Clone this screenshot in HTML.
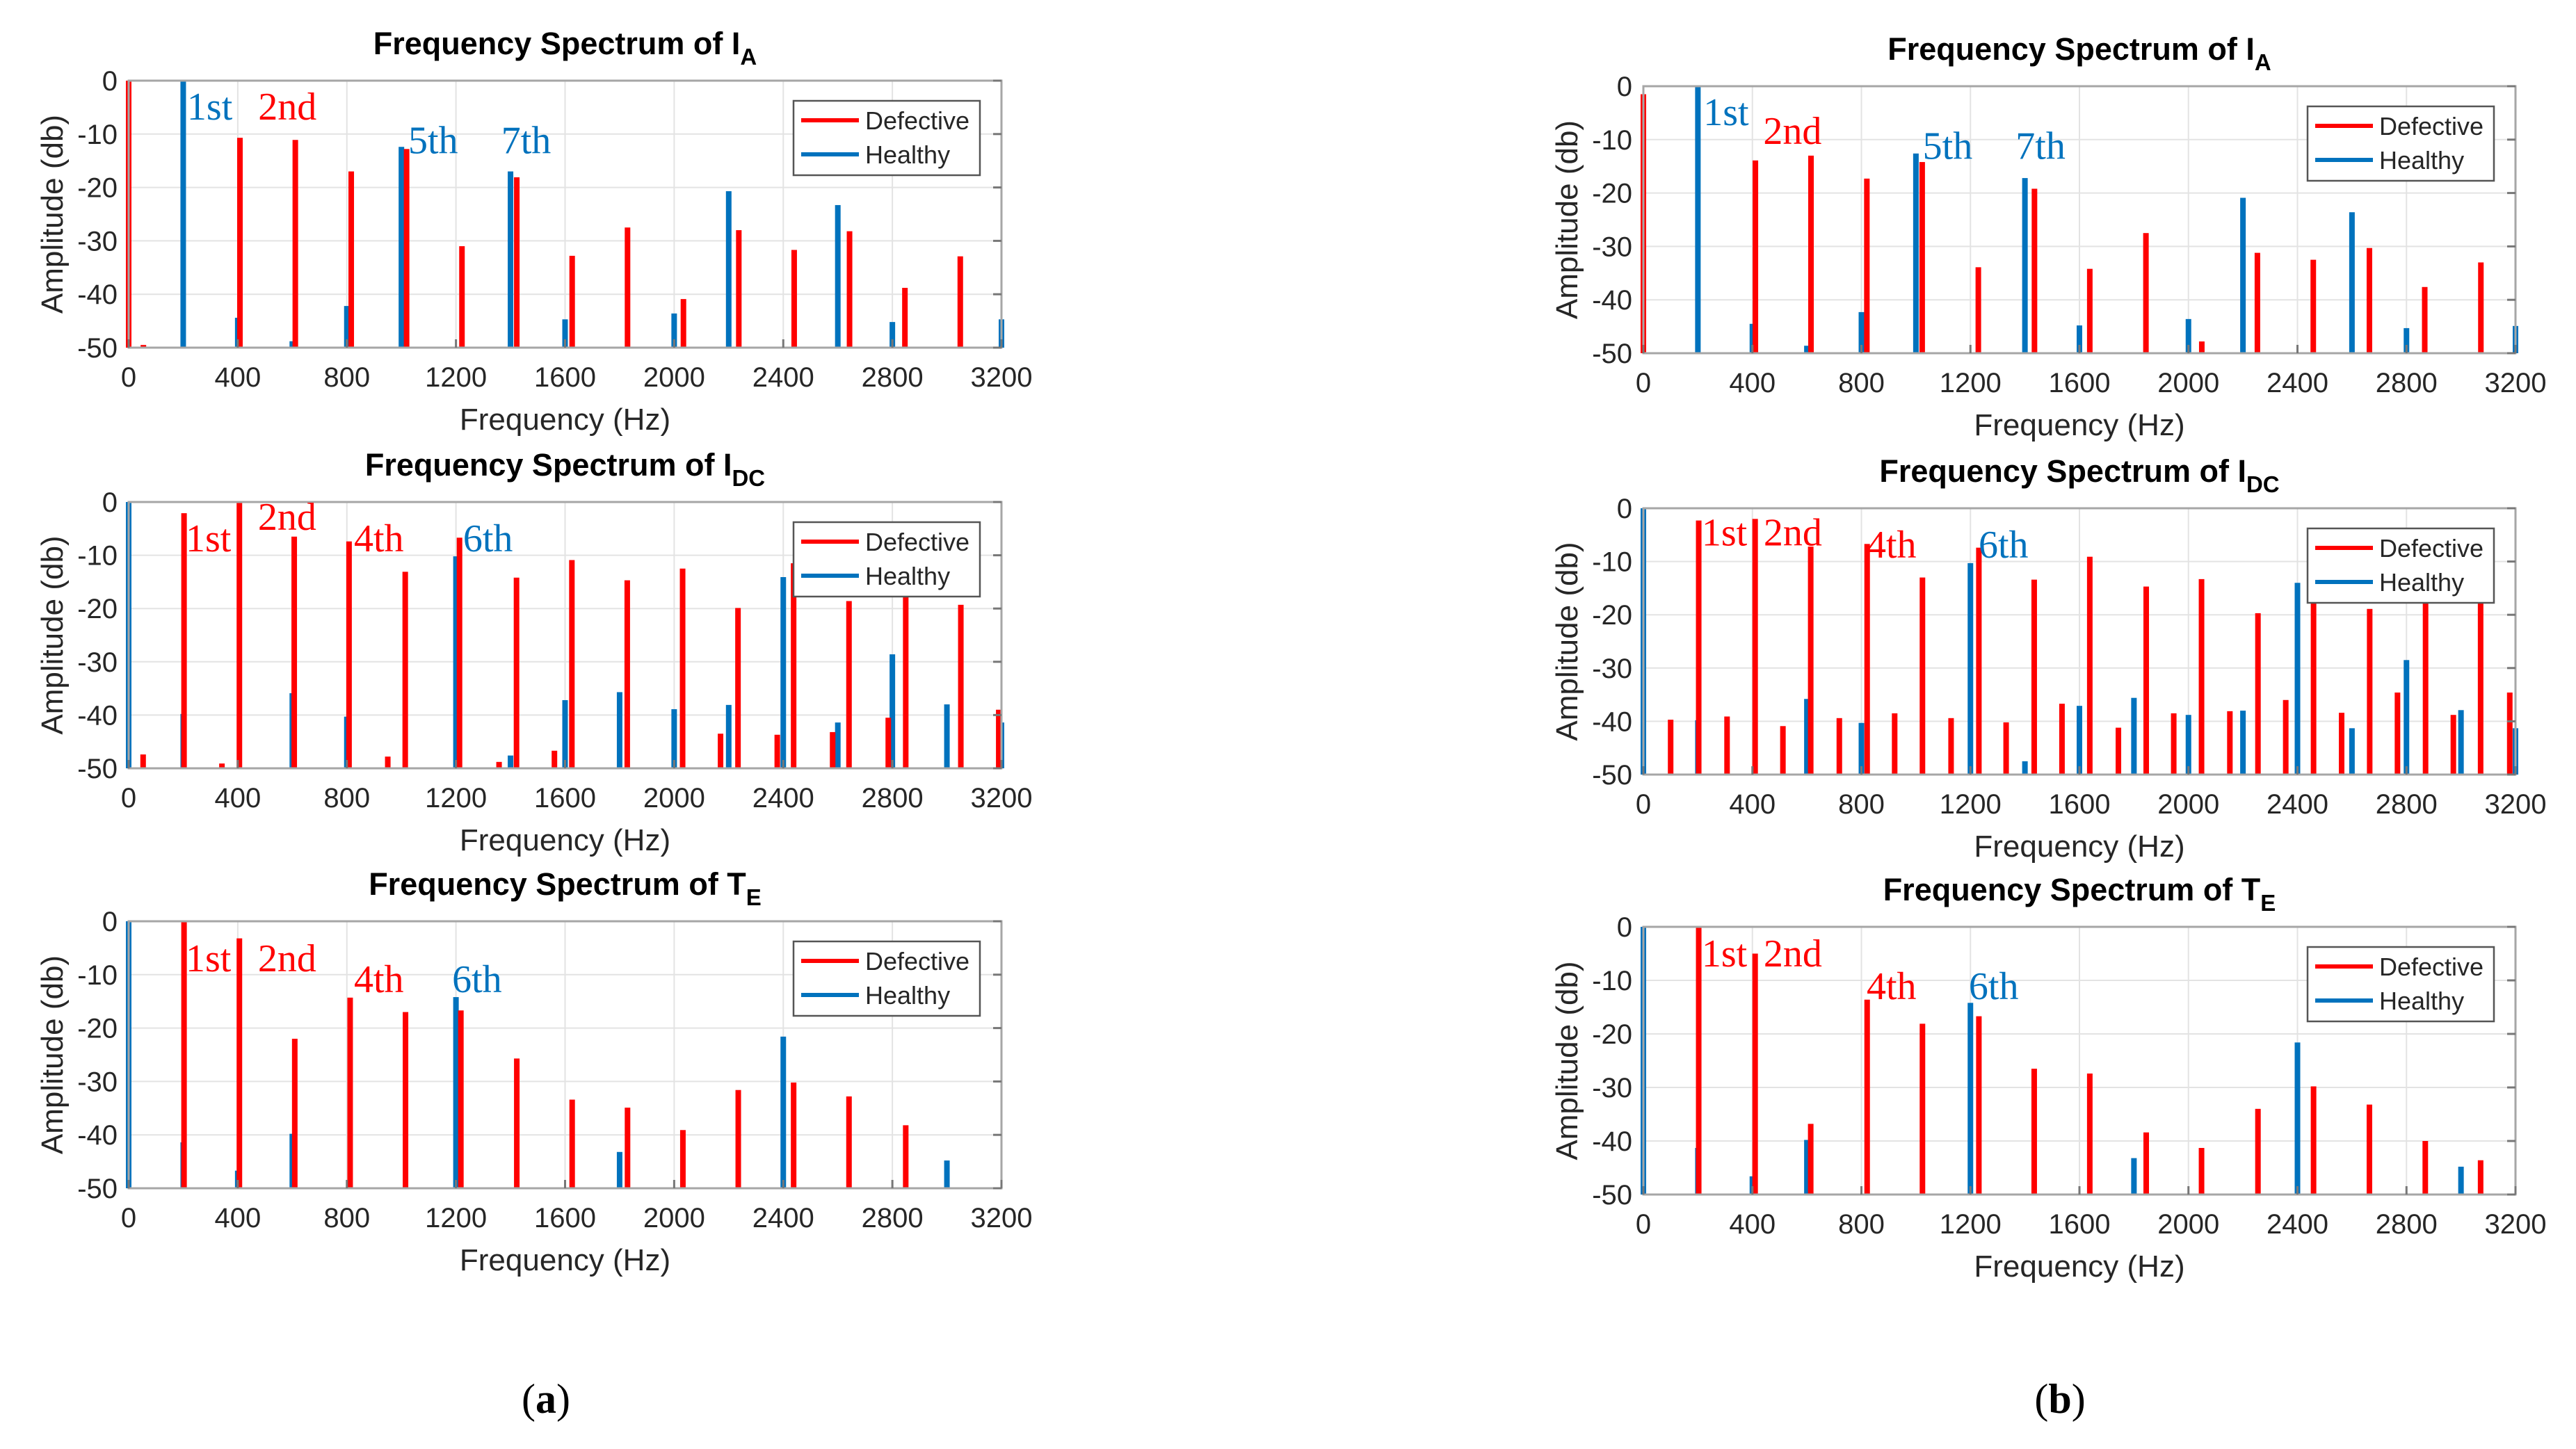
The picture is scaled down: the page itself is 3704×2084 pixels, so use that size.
<!DOCTYPE html>
<html><head><meta charset="utf-8"><title>Frequency Spectra</title>
<style>
html,body{margin:0;padding:0;background:#fff;}
svg{display:block;}
</style></head>
<body>
<svg id="fig" xmlns="http://www.w3.org/2000/svg" width="3704" height="2084" viewBox="0 0 3704 2084">
<rect width="3704" height="2084" fill="#fff"/>
<text x="785" y="2032" text-anchor="middle" font-family="Liberation Serif, serif" font-size="60">(<tspan font-weight="bold">a</tspan>)</text>
<text x="2962" y="2032" text-anchor="middle" font-family="Liberation Serif, serif" font-size="60">(<tspan font-weight="bold">b</tspan>)</text>
</svg>
<script>
// ---- data (a1) I_A, defective vs healthy
const a1RedF = [0,54,408,611,816,1019,1222,1423,1626,1829,2034,2237,2440,2643,2846,3049];
const a1RedV = [0,-49.5,-10.7,-11.1,-17,-12.8,-31,-18.1,-32.8,-27.5,-40.9,-28,-31.7,-28.2,-38.8,-32.9];
const a1BlueF = [200,400,600,800,1000,1400,1600,2000,2200,2600,2800,3200];
const a1BlueV = [0,-44.4,-48.8,-42.2,-12.4,-17,-44.7,-43.6,-20.7,-23.3,-45.2,-44.7];
// (a2) I_DC
const a2RedF = [53,203,342,406,607,808,950,1014,1213,1358,1422,1561,1625,1828,2031,2170,2234,2378,2438,2581,2641,2785,2849,3051,3190];
const a2RedV = [-47.4,-2.1,-49.1,0,-6.5,-7.4,-47.8,-13.1,-6.7,-48.8,-14.2,-46.7,-10.9,-14.7,-12.5,-43.5,-19.9,-43.7,-11.5,-43.2,-18.6,-40.5,-17.2,-19.3,-39];
const a2BlueF = [0,200,600,800,1200,1400,1600,1800,2000,2200,2400,2600,2800,3000,3200];
const a2BlueV = [0,-39.8,-35.9,-40.3,-10.2,-47.6,-37.2,-35.7,-38.9,-38.1,-14.1,-41.4,-28.6,-38,-41.4];
// (a3) T_E
const a3RedF = [203,406,609,812,1015,1218,1423,1626,1829,2032,2235,2438,2641,2849];
const a3RedV = [0,-3.2,-22,-14.3,-17,-16.7,-25.7,-33.4,-34.9,-39.1,-31.6,-30.2,-32.8,-38.2];
const a3BlueF = [0,200,400,600,1200,1800,2400,3000];
const a3BlueV = [0,-41.4,-46.7,-39.8,-14.2,-43.2,-21.6,-44.8];
// (b1) I_A
const b1RedF = [0,411,615,820,1023,1229,1435,1638,1844,2049,2253,2458,2664,2867,3073];
const b1RedV = [-1.5,-13.9,-13,-17.3,-14.2,-33.9,-19.2,-34.2,-27.5,-47.8,-31.2,-32.5,-30.3,-37.6,-33];
const b1BlueF = [200,400,600,800,1000,1400,1600,2000,2200,2600,2800,3200];
const b1BlueV = [0,-44.5,-48.6,-42.3,-12.6,-17.2,-44.8,-43.6,-20.9,-23.6,-45.3,-44.9];
// (b2) I_DC
const b2RedF = [100,203,307,410,512,614,719,821,922,1024,1129,1231,1331,1434,1536,1638,1743,1845,1946,2048,2152,2255,2357,2459,2562,2665,2767,2870,2972,3072,3179];
const b2RedV = [-39.7,-2.3,-39.1,-2,-40.9,-7.2,-39.4,-6.7,-38.5,-13,-39.4,-7.4,-40.2,-13.4,-36.7,-9.1,-41.2,-14.7,-38.5,-13.3,-38.1,-19.7,-36,-17,-38.4,-18.9,-34.6,-17,-38.8,-17.5,-34.6];
const b2BlueF = [0,200,600,800,1200,1400,1600,1800,2000,2200,2400,2600,2800,3000,3200];
const b2BlueV = [0,-39.8,-35.8,-40.3,-10.3,-47.5,-37.1,-35.6,-38.8,-38,-14,-41.3,-28.5,-37.9,-41.3];
// (b3) T_E
const b3RedF = [203,410,614,821,1024,1231,1434,1638,1845,2048,2255,2459,2664,2869,3072];
const b3RedV = [0,-5,-36.8,-13.6,-18.1,-16.7,-26.5,-27.4,-38.4,-41.3,-34,-29.8,-33.2,-40,-43.6];
const b3BlueF = [0,200,400,600,1200,1800,2400,3000];
const b3BlueV = [0,-41.3,-46.6,-39.8,-14.2,-43.2,-21.6,-44.8];

const xTicks = [0,400,800,1200,1600,2000,2400,2800,3200];
const yTicks = [0,-10,-20,-30,-40,-50];
const legendLabels = ["Defective","Healthy"];

const a1Notes = [["1st",214,-7.3,"b"],["2nd",475,-7.3,"r"],["5th",1025,-13.6,"b"],["7th",1366,-13.6,"b"]];
const a2Notes = [["1st",209,-9.3,"r"],["2nd",474,-5.2,"r"],["4th",826,-9.3,"r"],["6th",1226,-9.3,"b"]];
const a3Notes = [["1st",209,-9.4,"r"],["2nd",474,-9.4,"r"],["4th",826,-13.3,"r"],["6th",1186,-13.3,"b"]];
const b1Notes = [["1st",220,-7.3,"b"],["2nd",440,-10.8,"r"],["5th",1025,-13.6,"b"],["7th",1366,-13.6,"b"]];
const b2Notes = [["1st",214,-7.0,"r"],["2nd",441,-7.0,"r"],["4th",819,-9.3,"r"],["6th",1230,-9.3,"b"]];
const b3Notes = [["1st",214,-7.4,"r"],["2nd",441,-7.4,"r"],["4th",819,-13.5,"r"],["6th",1194,-13.5,"b"]];

const RED = "#ff0000", BLUE = "#0072bd";
const NS = "http://www.w3.org/2000/svg";
const svg = document.getElementById("fig");

function mk(tag, attrs, parent) {
  const e = document.createElementNS(NS, tag);
  for (const k in attrs) e.setAttribute(k, attrs[k]);
  (parent || svg).appendChild(e);
  return e;
}

function panel(id, L, R, T, B, base, sub, redF, redV, blueF, blueV, notes) {
  const g = mk("g", {});
  
  
  const xs = f => L + (f / 3200) * (R - L);
  const ys = v => T + (-v / 50) * (B - T);
  xTicks.forEach(t => {
    const ln = mk("line", {x1: xs(t), x2: xs(t), y1: T, y2: B, stroke: "#e3e3e3", "stroke-width": 2}, g);
    
    
  });
  yTicks.forEach(t => {
    const ln = mk("line", {x1: L, x2: R, y1: ys(t), y2: ys(t), stroke: "#e3e3e3", "stroke-width": 2}, g);
    
    
  });
  blueF.forEach((f, i) => {
    const r = mk("rect", {x: xs(f) - 4, y: ys(blueV[i]), width: 8, height: B - ys(blueV[i]), fill: BLUE}, g);
    
    
  });
  redF.forEach((f, i) => {
    const r = mk("rect", {x: xs(f) - 4, y: ys(redV[i]), width: 8, height: B - ys(redV[i]), fill: RED}, g);
    
    
  });
  const box = mk("rect", {x: L, y: T, width: R - L, height: B - T, fill: "none", stroke: "#a6a6a6", "stroke-width": 3}, g);
  
  
  yTicks.forEach(t => {
    mk("line", {x1: R - 12, x2: R, y1: ys(t), y2: ys(t), stroke: "#777", "stroke-width": 3}, g);
    const tx = mk("text", {x: L - 16, y: ys(t) + 14, "text-anchor": "end", "font-family": "Liberation Sans, sans-serif", "font-size": 40, fill: "#262626"}, g);
    tx.textContent = t;
    
    
  });
  xTicks.forEach(t => {
    mk("line", {x1: xs(t), x2: xs(t), y1: B - 12, y2: B, stroke: "#777", "stroke-width": 3}, g);
    const tx = mk("text", {x: xs(t), y: B + 56, "text-anchor": "middle", "font-family": "Liberation Sans, sans-serif", "font-size": 40, fill: "#262626"}, g);
    tx.textContent = t;
    
    
  });
  const xl = mk("text", {x: (L + R) / 2, y: B + 118, "text-anchor": "middle", "font-family": "Liberation Sans, sans-serif", "font-size": 44, fill: "#262626"}, g);
  xl.textContent = "Frequency (Hz)";
  
  
  const yl = mk("text", {x: 0, y: 0, transform: `translate(${L - 95},${(T + B) / 2}) rotate(-90)`, "text-anchor": "middle", "font-family": "Liberation Sans, sans-serif", "font-size": 44, fill: "#262626"}, g);
  yl.textContent = "Amplitude (db)";
  
  
  const tt = mk("text", {x: (L + R) / 2, y: T - 38, "text-anchor": "middle", "font-family": "Liberation Sans, sans-serif", "font-size": 45, "font-weight": "bold", fill: "#000"}, g);
  
  
  const s1 = mk("tspan", {}, tt); s1.textContent = "Frequency Spectrum of " + base;
  const s2 = mk("tspan", {dy: 15, "font-size": 33}, tt); s2.textContent = sub;
  notes.forEach(n => {
    const a = mk("text", {x: xs(n[1]), y: ys(n[2]), "font-family": "Liberation Serif, serif", "font-size": 56, fill: n[3] === "r" ? RED : BLUE}, g);
    a.textContent = n[0];
    
    
  });
  const lg = mk("g", {}, g);
  
  
  const lx = R - 299, ly = T + 29;
  mk("rect", {x: lx, y: ly, width: 268, height: 107, fill: "#fff", stroke: "#555", "stroke-width": 2.5}, lg);
  legendLabels.forEach((lab, i) => {
    const cy = ly + 28 + i * 49;
    const ln = mk("line", {x1: lx + 11, x2: lx + 94, y1: cy, y2: cy, stroke: i === 0 ? RED : BLUE, "stroke-width": 6}, lg);
    
    
    const tx = mk("text", {x: lx + 103, y: cy + 13, "font-family": "Liberation Sans, sans-serif", "font-size": 36, fill: "#262626"}, lg);
    tx.textContent = lab;
    
    
  });
}

panel("a1", 185, 1440, 116, 500, "I", "A", a1RedF, a1RedV, a1BlueF, a1BlueV, a1Notes);
panel("a2", 185, 1440, 722, 1105, "I", "DC", a2RedF, a2RedV, a2BlueF, a2BlueV, a2Notes);
panel("a3", 185, 1440, 1325, 1709, "T", "E", a3RedF, a3RedV, a3BlueF, a3BlueV, a3Notes);
panel("b1", 2363, 3617, 124, 508, "I", "A", b1RedF, b1RedV, b1BlueF, b1BlueV, b1Notes);
panel("b2", 2363, 3617, 731, 1114, "I", "DC", b2RedF, b2RedV, b2BlueF, b2BlueV, b2Notes);
panel("b3", 2363, 3617, 1333, 1718, "T", "E", b3RedF, b3RedV, b3BlueF, b3BlueV, b3Notes);
</script>
</body></html>
